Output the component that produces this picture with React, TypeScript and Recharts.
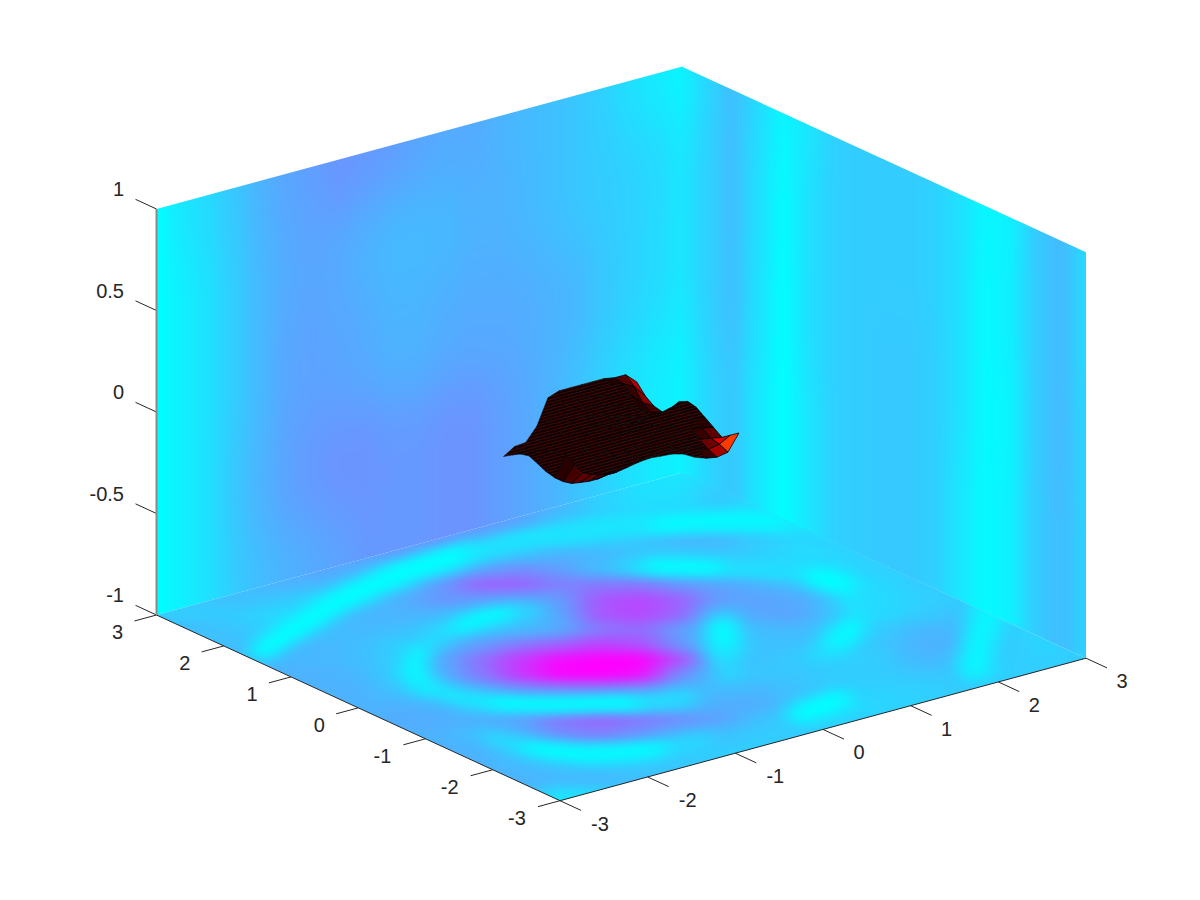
import React from 'react';
import { ScatterChart, Scatter, XAxis, YAxis } from 'recharts';

// ---- values (t in percent of the cool colormap) ----
const floorColsPx = [160,200,240,280,320,360,400,440,480,520,560,600,640,680,720,760,800,840,880,920,960,1000,1040,1080];
const floorRowsPx = [465,480,495,510,525,540,555,570,585,600,615,630,645,660,675,690,705,720,735,750,765,780,795,810];
const floorValues = [
[20,20,20,20,34,38,40,42,42,38,30,22,14,10,18,18,18,20,20,20,20,20,20,20],
[20,20,20,20,34,38,40,42,42,38,30,22,12,10,18,18,18,20,20,20,20,20,20,20],
[20,20,20,20,34,38,40,42,42,38,28,18,12,12,22,16,18,20,20,20,20,20,20,20],
[20,20,20,20,34,38,40,42,42,36,28,18,14,14,18,12,14,18,20,20,20,20,20,20],
[20,20,20,20,34,38,40,42,40,34,20,12,10,10,8,10,12,16,20,20,20,20,20,20],
[20,20,20,28,36,38,40,42,32,16,14,18,22,28,28,20,15,18,20,20,20,20,20,20],
[20,20,22,32,36,38,38,28,15,22,30,28,22,20,22,18,14,16,20,20,20,20,20,20],
[20,20,24,32,36,30,15,18,35,45,38,25,18,15,18,16,14,14,18,20,20,20,20,20],
[20,20,26,30,28,20,20,38,62,62,50,52,52,40,35,30,24,14,15,20,20,20,20,20],
[18,22,25,22,15,20,30,42,38,33,38,66,72,62,38,36,33,20,14,18,20,20,20,20],
[20,20,20,14,20,28,30,28,18,20,34,66,72,60,22,35,35,20,14,20,24,20,20,20],
[25,25,22,18,24,28,25,18,20,26,32,52,58,38,18,26,28,16,20,28,28,20,16,20],
[25,25,25,28,28,26,18,25,38,52,62,74,68,42,16,24,24,16,22,30,30,22,16,20],
[28,28,28,28,28,26,18,32,55,78,95,100,100,70,20,24,20,18,20,28,26,20,18,20],
[30,30,30,30,30,28,18,28,52,78,100,100,95,45,22,22,22,20,20,22,22,18,20,20],
[30,30,30,30,30,30,22,22,30,42,46,48,42,28,26,28,24,18,18,18,20,20,20,20],
[30,30,30,30,30,30,30,28,20,20,18,18,18,22,32,32,20,14,16,18,20,20,20,20],
[30,30,30,30,30,30,33,32,30,36,54,60,54,44,36,24,18,16,18,20,20,20,20,20],
[30,30,30,30,30,30,30,30,24,28,44,50,40,28,24,20,20,20,20,20,20,20,20,20],
[30,30,30,30,30,30,30,30,30,20,14,14,16,18,20,20,20,20,20,20,20,20,20,20],
[30,30,30,30,30,30,30,30,30,26,22,20,20,22,20,20,20,20,20,20,20,20,20,20],
[30,30,30,30,30,30,30,30,30,30,28,28,25,25,20,20,20,20,20,20,20,20,20,20],
[30,30,30,30,30,30,30,30,30,30,10,15,25,25,20,20,20,20,20,20,20,20,20,20],
[30,30,30,30,30,30,30,30,30,30,5,15,25,25,20,20,20,20,20,20,20,20,20,20],
];
// crests of the bright rings on the floor: t, width, then picture points
const floorRidges: { t: number; w: number; path: number[][] }[] = [
  { t: 0, w: 22, path: [[262,650],[297,627],[340,600],[380,582],[417,567],[470,552]] },
  { t: 10, w: 15, path: [[470,552],[533,537],[600,529],[660,525]] },
  { t: 2, w: 16, path: [[660,525],[705,521],[750,520],[790,522]] },
  { t: 12, w: 10, path: [[790,522],[830,530]] },
  { t: 15, w: 10, path: [[535,610],[505,613]] },
  { t: 0, w: 14, path: [[505,613],[477,620],[450,630]] },
  { t: 13, w: 14, path: [[450,630],[425,645]] },
  { t: 0, w: 20, path: [[418,655],[413,672],[424,686]] },
  { t: 8, w: 13, path: [[424,686],[460,698],[497,703]] },
  { t: 0, w: 14, path: [[497,703],[550,705],[607,703],[640,703]] },
  { t: 12, w: 12, path: [[640,703],[690,697]] },
  { t: 12, w: 12, path: [[490,738],[530,748]] },
  { t: 0, w: 14, path: [[530,748],[583,755],[625,753],[665,748]] },
  { t: 13, w: 10, path: [[665,748],[705,738]] },
  { t: 15, w: 10, path: [[625,566],[650,566]] },
  { t: 0, w: 14, path: [[650,566],[690,567],[725,568]] },
  { t: 12, w: 12, path: [[725,568],[800,574]] },
  { t: 0, w: 20, path: [[815,577],[843,584],[853,595]] },
  { t: 10, w: 18, path: [[853,595],[858,612],[852,628]] },
  { t: 0, w: 20, path: [[852,628],[843,637],[830,647]] },
  { t: 13, w: 12, path: [[830,647],[815,655]] },
  { t: 0, w: 26, path: [[723,630],[725,650]] },
  { t: 13, w: 14, path: [[725,650],[730,675]] },
  { t: 0, w: 20, path: [[800,714],[820,707],[840,700]] },
  { t: 3, w: 32, path: [[988,612],[980,640],[975,665]] },
];

const wallZ = [1, 0.5, 0, -0.5, -1];
// wall y = 3, x from -3 to 3 in 0.3 steps
const backLeftWall = [
[0,10,15,22,30,35,38,42,40,38,35,33,33,30,27,25,22,18,12,8,4],
[0,6,12,20,28,33,35,33,30,27,27,28,30,30,28,25,22,20,18,15,10],
[0,6,12,20,28,35,36,35,33,30,30,32,33,33,32,30,28,22,18,14,10],
[0,6,12,22,30,36,40,42,42,40,40,42,42,38,34,30,24,18,12,8,5],
[0,6,12,20,26,30,33,36,40,40,40,42,42,38,34,30,24,18,12,8,5],
];
// wall x = 3, y from 3 to -3 in 0.375 steps
const backRightWall = [
[4,16,25,14,3,10,18,20,20,20,18,12,3,5,20,27,15],
[10,18,25,13,1,12,18,20,20,20,18,12,2,6,20,27,15],
[10,18,25,12,0,12,18,20,21,21,19,12,2,4,20,27,17],
[5,16,22,10,0,10,18,20,21,21,19,10,2,5,20,26,18],
[5,16,22,10,0,10,18,20,21,21,19,10,2,5,20,26,18],
];

// height of the surface over x,y in [-0.76,0.76]; first row is y = +0.76
const surfaceZ = [
[-.14,-.105,-.10,-.035,.09,.11,.11,.11,.11,.11,.10,.10,.05],
[-.113,-.10,-.07,.0,.10,.11,.11,.11,.10,.10,.09,.06,.0],
[-.089,-.09,-.04,.04,.10,.10,.10,.09,.08,.07,.05,.0,-.03],
[-.079,-.07,-.01,.06,.09,.08,.08,.06,.05,.03,.0,-.03,-.04],
[-.098,-.05,.02,.06,.07,.06,.05,.03,.02,.0,-.02,-.02,.0],
[-.118,-.04,.03,.05,.05,.04,.04,.02,.01,.01,.01,.02,.05],
[-.128,-.03,.04,.05,.04,.04,.04,.03,.03,.04,.05,.06,.07],
[-.128,-.06,.01,.03,.03,.03,.03,.03,.03,.04,.05,.06,.06],
[-.118,-.08,-.03,.0,.02,.02,.02,.02,.03,.03,.04,.04,.03],
[-.094,-.07,-.04,-.02,.0,.01,.01,.02,.02,.02,.02,.01,.0],
[-.069,-.05,-.04,-.02,-.01,.0,.01,.01,.01,.0,-.01,-.02,-.03],
[-.039,-.03,-.02,-.01,.0,.01,.01,.01,.0,-.02,-.04,-.03,.0],
[0,.0,.01,.02,.025,.02,.015,0,-.03,-.05,-.06,-.05,.03],
];
// colour of each surface cell, percent of the hot colormap (small = dense black mesh)
const surfaceHeat = [
[3,3,3,3,3,3,3,3,3,5,12,26],
[3,3,3,3,3,3,3,3,3,3,8,20],
[3,3,3,3,3,3,3,3,3,3,5,10],
[3,3,3,3,3,3,3,3,3,3,3,5],
[3,3,3,3,3,3,3,3,3,3,3,3],
[3,3,3,3,3,3,3,3,3,3,3,3],
[6,3,3,3,3,3,3,3,3,3,3,3],
[10,3,3,3,3,3,3,3,3,3,3,3],
[14,3,3,3,3,3,3,3,3,3,3,6],
[14,3,3,3,3,3,3,3,3,3,8,14],
[10,3,3,3,3,3,3,3,3,3,16,32],
[6,3,3,3,3,3,3,3,3,8,24,46],
];

const xTicks = [-3, -2, -1, 0, 1, 2, 3];
const yTicks = [-3, -2, -1, 0, 1, 2, 3];
const zTicks = [-1, -0.5, 0, 0.5, 1];

// ---- view of the 3-D box ----
const ORIGIN = [560, 800.7];
const UX = [526, -142.5];
const VY = [-403.5, -185.7];
const ZH = 406;
const project = (x: number, y: number, z: number) => [
  ORIGIN[0] + ((x + 3) / 6) * UX[0] + ((y + 3) / 6) * VY[0],
  ORIGIN[1] + ((x + 3) / 6) * UX[1] + ((y + 3) / 6) * VY[1] - ((z + 1) / 2) * ZH,
];
const cool = (p: number) => {
  const t = Math.max(0, Math.min(1, p / 100));
  return `rgb(${Math.round(255 * t)},${Math.round(255 * (1 - t))},255)`;
};
const hot = (p: number) => {
  const t = Math.max(0, Math.min(1, p / 100));
  const r = Math.min(1, t / 0.375), g = Math.max(0, Math.min(1, (t - 0.375) / 0.375)), b = Math.max(0, (t - 0.75) / 0.25);
  return `rgb(${Math.round(255 * r)},${Math.round(255 * g)},${Math.round(255 * b)})`;
};

type Item = { px: number; py: number; poly?: number[][]; fill?: string; stroke?: string; sw?: number; label?: string; anchor?: string; line?: number[][] };

const makeItem = (corners: number[][], fill: string, stroke?: string, sw?: number): Item => {
  const px = corners.reduce((s, c) => s + c[0], 0) / corners.length;
  const py = corners.reduce((s, c) => s + c[1], 0) / corners.length;
  return { px, py, poly: corners.map((c) => [c[0] - px, c[1] - py]), fill, stroke, sw };
};
const bounds = (arr: number[], i: number) => {
  const step = i > 0 ? arr[i] - arr[i - 1] : arr[1] - arr[0];
  const next = i < arr.length - 1 ? arr[i + 1] - arr[i] : step;
  const a = i === 0 ? arr[0] - step * 3 : arr[i] - step / 2;
  const b = i === arr.length - 1 ? arr[i] + next * 3 : arr[i] + next / 2;
  return [a, b];
};

const xL = backLeftWall[0].map((_, i) => -3 + i * 0.3);
const yR = backRightWall[0].map((_, i) => 3 - i * 0.375);
const zs = wallZ;
const leftCells: Item[] = [];
backLeftWall.forEach((row, r) => row.forEach((v, i) => {
  const [a, b] = bounds(xL, i);
  const [z1, z0] = bounds(zs, r);
  leftCells.push(makeItem([project(a, 3, z0), project(b, 3, z0), project(b, 3, z1), project(a, 3, z1)], cool(v), cool(v), 1));
}));
const rightCells: Item[] = [];
backRightWall.forEach((row, r) => row.forEach((v, i) => {
  const [a, b] = bounds(yR, i);
  const [z1, z0] = bounds(zs, r);
  rightCells.push(makeItem([project(3, a, z0), project(3, b, z0), project(3, b, z1), project(3, a, z1)], cool(v), cool(v), 1));
}));
const floorCells: Item[] = [];
floorValues.forEach((row, r) => row.forEach((v, i) => {
  const [a, b] = bounds(floorColsPx, i);
  const [c, d] = bounds(floorRowsPx, r);
  floorCells.push(makeItem([[a, c], [b, c], [b, d], [a, d]], cool(v), cool(v), 1));
}));
const ridgeItems: Item[] = floorRidges.map((r) => makeItem(r.path, 'none', cool(r.t), r.w));

const A = 0.76;
const nS = surfaceZ.length - 1;
const sp = (c: number, r: number) => project(-A + (2 * A * c) / nS, A - (2 * A * r) / nS, surfaceZ[r][c]);
const surfaceCells: Item[] = [];
// painter's order: back corner (x=+A, y=+A) first
const order: number[][] = [];
for (let r = 0; r < nS; r++) for (let c = 0; c < nS; c++) order.push([c, r]);
order.sort((p, q) => (q[0] + (nS - q[1])) - (p[0] + (nS - p[1])));
order.forEach(([c, r]) => {
  const h = surfaceHeat[r][c];
  surfaceCells.push(makeItem([sp(c, r), sp(c + 1, r), sp(c + 1, r + 1), sp(c, r + 1)], h < 5 ? 'url(#meshPat)' : hot(h), h < 5 ? '#0a0000' : '#000', h < 5 ? 0.5 : 0.8));
});

const segs: Item[] = [];
const seg = (a: number[], b: number[], stroke: string, sw: number) => {
  const px = (a[0] + b[0]) / 2, py = (a[1] + b[1]) / 2;
  segs.push({ px, py, line: [[a[0] - px, a[1] - py], [b[0] - px, b[1] - py]], stroke, sw });
};
const labels: Item[] = [];
const TICK_U = 0.042, TICK_V = 0.052;
xTicks.forEach((v) => {
  const p = project(v, -3, -1);
  seg(p, [p[0] - VY[0] * TICK_V, p[1] - VY[1] * TICK_V], '#262626', 1);
  labels.push({ px: p[0] + 36 + (v < 0 ? 4 : 0), py: p[1] + 30, label: String(v), anchor: 'middle' });
});
yTicks.forEach((v) => {
  const p = project(-3, v, -1);
  seg(p, [p[0] - UX[0] * TICK_U, p[1] - UX[1] * TICK_U], '#262626', 1);
  labels.push({ px: p[0] - 39 - (v < 0 ? 4 : 0), py: p[1] + 24, label: String(v), anchor: 'middle' });
});
zTicks.forEach((v) => {
  const p = project(-3, 3, v);
  seg(p, [p[0] + VY[0] * TICK_V, p[1] + VY[1] * TICK_V], '#262626', 1);
  labels.push({ px: 124, py: p[1] - 13, label: String(v), anchor: 'end' });
});
const edgeL = project(-3, 3, -1), edgeO = project(-3, -3, -1), edgeR = project(3, -3, -1);
seg(edgeL, edgeO, '#262626', 1);
seg(edgeO, edgeR, '#262626', 1);
seg(project(-3, 3, 1), edgeL, '#8a8a8a', 2);

const PolyShape = (props: any) => {
  const { cx, cy, payload } = props;
  if (cx == null || !payload) return null;
  return (
    <polygon
      points={payload.poly.map((c: number[]) => `${cx + c[0]},${cy + c[1]}`).join(' ')}
      fill={payload.fill}
      stroke={payload.stroke}
      strokeWidth={payload.sw}
      strokeLinejoin="round"
    />
  );
};
const RidgeShape = (props: any) => {
  const { cx, cy, payload } = props;
  if (cx == null || !payload) return null;
  return (
    <polyline
      points={payload.poly.map((c: number[]) => `${cx + c[0]},${cy + c[1]}`).join(' ')}
      fill="none"
      stroke={payload.stroke}
      strokeWidth={payload.sw}
      strokeLinejoin="round"
      strokeLinecap="round"
    />
  );
};
const LineShape = (props: any) => {
  const { cx, cy, payload } = props;
  if (cx == null || !payload) return null;
  return (
    <line x1={cx + payload.line[0][0]} y1={cy + payload.line[0][1]} x2={cx + payload.line[1][0]} y2={cy + payload.line[1][1]}
      stroke={payload.stroke} strokeWidth={payload.sw} />
  );
};
const TextShape = (props: any) => {
  const { cx, cy, payload } = props;
  if (cx == null || !payload) return null;
  return (
    <text x={cx} y={cy} textAnchor={payload.anchor} fontFamily="'Liberation Sans', Arial, sans-serif" fontSize={20} fill="#262626">
      {payload.label}
    </text>
  );
};

const pts = (list: number[][]) => list.map((c) => c.join(',')).join(' ');
const clipLeft = pts([project(-3, 3, 1), project(3, 3, 1), project(3, 3, -1), project(-3, 3, -1)]);
const rt = project(3, 3, 1), rb = project(3, 3, -1);
const clipRight = pts([[rt[0] - 1, rt[1]], project(3, -3, 1), project(3, -3, -1), [rb[0] - 1, rb[1]]]);
const clipFloor = pts([project(-3, 3, -1), project(3, 3, -1), project(3, -3, -1), project(-3, -3, -1)]);

const css = `
.plane-left{filter:url(#blurWall);clip-path:url(#clipLeft)}
.plane-right{filter:url(#blurWall);clip-path:url(#clipRight)}
.plane-floor{filter:url(#blurFloor);clip-path:url(#clipFloor)}
.plane-ridges{filter:url(#blurRidge);clip-path:url(#clipFloor)}
`;

export default function App() {
  return (
    <div style={{ position: 'absolute', left: 0, top: 0, width: 1200, height: 900, background: '#fff' }}>
      <style>{css}</style>
      <svg width={0} height={0} style={{ position: 'absolute' }}>
        <defs>
          <filter id="blurWall" filterUnits="userSpaceOnUse" x={0} y={0} width={1200} height={900} colorInterpolationFilters="sRGB">
            <feGaussianBlur stdDeviation="9 30" />
          </filter>
          <filter id="blurFloor" filterUnits="userSpaceOnUse" x={0} y={0} width={1200} height={900} colorInterpolationFilters="sRGB">
            <feGaussianBlur stdDeviation="15 6" />
          </filter>
          <filter id="blurRidge" filterUnits="userSpaceOnUse" x={0} y={0} width={1200} height={900} colorInterpolationFilters="sRGB">
            <feGaussianBlur stdDeviation="10 6" />
          </filter>
          <pattern id="meshPat" patternUnits="userSpaceOnUse" width={3} height={3} patternTransform="rotate(-15)">
            <rect width={3} height={3} fill="#0e0000" />
            <rect width={3} height={1} fill="#4a0600" />
          </pattern>
          <clipPath id="clipLeft"><polygon points={clipLeft} /></clipPath>
          <clipPath id="clipRight"><polygon points={clipRight} /></clipPath>
          <clipPath id="clipFloor"><polygon points={clipFloor} /></clipPath>
        </defs>
      </svg>
      <ScatterChart width={1200} height={900} margin={{ top: 0, right: 0, bottom: 0, left: 0 }}>
        <XAxis type="number" dataKey="px" domain={[0, 1200]} hide allowDataOverflow />
        <YAxis type="number" dataKey="py" domain={[0, 900]} reversed hide allowDataOverflow />
        <Scatter className="plane-left" data={leftCells} shape={PolyShape} isAnimationActive={false} />
        <Scatter className="plane-right" data={rightCells} shape={PolyShape} isAnimationActive={false} />
        <Scatter className="plane-floor" data={floorCells} shape={PolyShape} isAnimationActive={false} />
        <Scatter className="plane-ridges" data={ridgeItems} shape={RidgeShape} isAnimationActive={false} />
        <Scatter data={surfaceCells} shape={PolyShape} isAnimationActive={false} />
        <Scatter data={segs} shape={LineShape} isAnimationActive={false} />
        <Scatter data={labels} shape={TextShape} isAnimationActive={false} />
      </ScatterChart>
    </div>
  );
}
